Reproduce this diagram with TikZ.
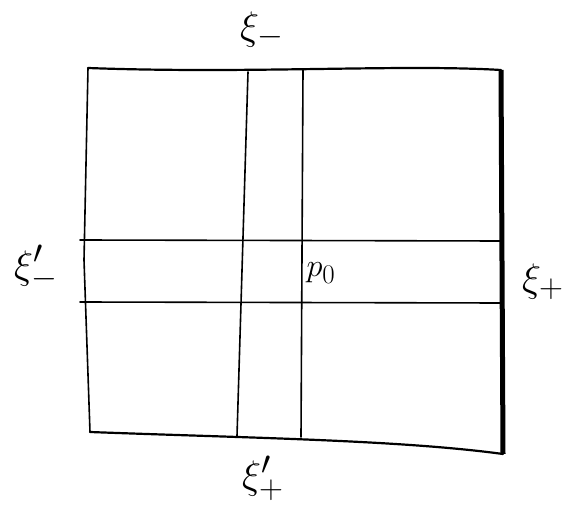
\documentclass[tikz,border=0pt]{standalone}
\begin{document}
\begin{tikzpicture}[x=1pt,y=-1pt,
  edge/.style={line width=2.2pt,line cap=round},
  thin/.style={line width=1.6pt,line cap=round},
  lab/.style={inner sep=0pt,font=\Huge,scale=1.6,transform shape}]
  \useasboundingbox (0,0) rectangle (573,518);
  % corners of the square
  \coordinate (tl) at (88,68);
  \coordinate (tr) at (501,70);
  \coordinate (br) at (503,454);
  \coordinate (bl) at (90,432);
  % outer frame
  \draw[edge] (tl) .. controls (250,74) and (400,64) .. (tr);
  \draw[edge] (bl) .. controls (250,438) and (400,440) .. (br);
  \draw[thin] (tl) -- (84,260) -- (bl);
  \draw[line width=5pt] (tr) -- (br);
  % vertical strip
  \coordinate (v1t) at (248,72);
  \coordinate (v1b) at (237,436);
  \coordinate (v2t) at (303,70);
  \coordinate (v2b) at (301,437);
  \draw[thin] (v1t) -- (v1b);
  \draw[thin] (v2t) -- (v2b);
  % horizontal strip
  \coordinate (h1l) at (80,240);
  \coordinate (h1r) at (500,241);
  \coordinate (h2l) at (80,302);
  \coordinate (h2r) at (500,303);
  \draw[thin] (h1l) -- (h1r);
  \draw[thin] (h2l) -- (h2r);
  % labels
  \node[lab] (top) at (262,30) {$\xi_-$};
  \node[lab] (left) at (36,268) {$\xi'_{-}$};
  \node[lab] (right) at (543,282) {$\xi_+$};
  \node[lab] (bottom) at (263,478) {$\xi'_{+}$};
  \node[inner sep=0pt,font=\Huge,scale=1.3,transform shape] (p0) at (321,273) {$p_0$};
\end{tikzpicture}
\end{document}
